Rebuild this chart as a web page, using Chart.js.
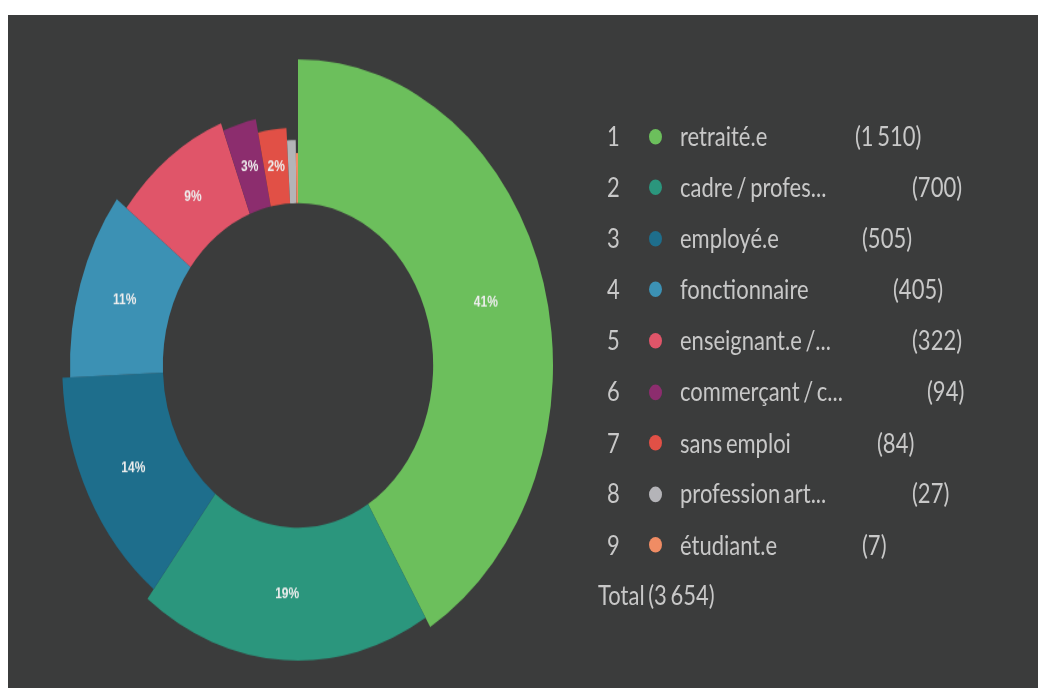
<!DOCTYPE html>
<html>
<head>
<meta charset="utf-8">
<script src="https://cdn.jsdelivr.net/npm/chart.js@4/dist/chart.umd.min.js"></script>
<style>
  html, body { margin: 0; padding: 0; background: #ffffff; width: 1038px; height: 688px; overflow: hidden; }
  #panel { position: absolute; left: 8px; top: 15px; width: 1030px; height: 673px; background: #3b3c3c; overflow: hidden; }
  #stage { position: absolute; left: 0; top: 0; width: 1030px; height: 561px; transform: scaleY(1.2); transform-origin: 0 0; }
  #chartBox { position: absolute; left: 35px; top: 37px; width: 510px; height: 510px; }
  #legend { position: absolute; left: 0; top: 0; width: 1030px; height: 561px; font-family: Lato, "Open Sans", sans-serif; font-size: 22px; word-spacing: -2px; color: #c8c8c8; }
  .cell { position: absolute; height: 26px; line-height: 26px; white-space: nowrap; }
  .dot { position: absolute; width: 13px; height: 13px; border-radius: 50%; }
</style>
</head>
<body>
<div id="panel">
  <div id="stage">
    <div id="chartBox"><canvas id="c"></canvas></div>
    <div id="legend"></div>
  </div>
</div>
<script>
// ---- data ----
const categories = ['retraité.e', 'cadre / profes...', 'employé.e', 'fonctionnaire', 'enseignant.e /...', 'commerçant / c...', 'sans emploi', 'profession art...', 'étudiant.e'];
const counts = [1510, 700, 505, 405, 322, 94, 84, 27, 7];
const totalText = 'Total';

// ---- style ----
const colors = ['#6cbf5c', '#2b967d', '#1e6e8c', '#3c91b4', '#e05569', '#8c2d6e', '#e15046', '#b4b4b8', '#f08c64'];
const ringDepth = [1.0, 0.925, 0.84, 0.775, 0.675, 0.62, 0.525, 0.44, 0.35];
const valueX = [847, 904, 854, 885, 904, 919, 869, 904, 854];
const legendLayout = { numX: 599, dotX: 640.5, labelX: 672, firstY: 101, step: 42.6, totalX: 590 };

function fmt(n) {
  return String(n).replace(/\B(?=(\d{3})+(?!\d))/g, ' ');
}
const total = counts.reduce((a, b) => a + b, 0);

// ---- legend (real text) ----
const legend = document.getElementById('legend');
function addCell(text, x, yc) {
  const d = document.createElement('div');
  d.className = 'cell';
  d.textContent = text;
  d.style.left = x + 'px';
  d.style.top = (yc - 13) + 'px';
  legend.appendChild(d);
  return d;
}
categories.forEach((cat, i) => {
  const yc = legendLayout.firstY + i * legendLayout.step;
  addCell(String(i + 1), legendLayout.numX, yc);
  const dot = document.createElement('div');
  dot.className = 'dot';
  dot.style.left = legendLayout.dotX + 'px';
  dot.style.top = (yc - 6.5) + 'px';
  dot.style.background = colors[i];
  legend.appendChild(dot);
  addCell(cat, legendLayout.labelX, yc);
  addCell('(' + fmt(counts[i]) + ')', valueX[i], yc);
});
addCell(totalText + ' (' + fmt(total) + ')', legendLayout.totalX, legendLayout.firstY + categories.length * legendLayout.step);

// ---- plugin: variable ring depth + percentage labels ----
const variableRadius = {
  id: 'variableRadius',
  afterDatasetsUpdate(chart) {
    const meta = chart.getDatasetMeta(0);
    const ctrl = meta.controller;
    meta.data.forEach((arc, i) => {
      const inner = ctrl.innerRadius;
      const outer = ctrl.outerRadius;
      arc.outerRadius = inner + (outer - inner) * ringDepth[i];
    });
  },
  afterDatasetsDraw(chart) {
    const ctx = chart.ctx;
    const meta = chart.getDatasetMeta(0);
    ctx.save();
    ctx.font = 'bold 12px "Liberation Sans", Arial, sans-serif';
    ctx.fillStyle = '#eeeeee';
    ctx.textAlign = 'center';
    ctx.textBaseline = 'middle';
    meta.data.forEach((arc, i) => {
      const pct = counts[i] / total * 100;
      if (pct < 1.5) return;
      const p = arc.getCenterPoint();
      ctx.fillText(Math.round(pct) + '%', p.x, p.y);
    });
    ctx.restore();
  }
};

new Chart(document.getElementById('c'), {
  type: 'doughnut',
  data: {
    labels: categories,
    datasets: [{
      data: counts,
      backgroundColor: colors,
      borderWidth: 0,
      hoverOffset: 0
    }]
  },
  options: {
    responsive: true,
    maintainAspectRatio: false,
    animation: false,
    events: [],
    cutout: '53%',
    layout: { padding: 0 },
    plugins: {
      legend: { display: false },
      tooltip: { enabled: false }
    }
  },
  plugins: [variableRadius]
});
</script>
</body>
</html>
